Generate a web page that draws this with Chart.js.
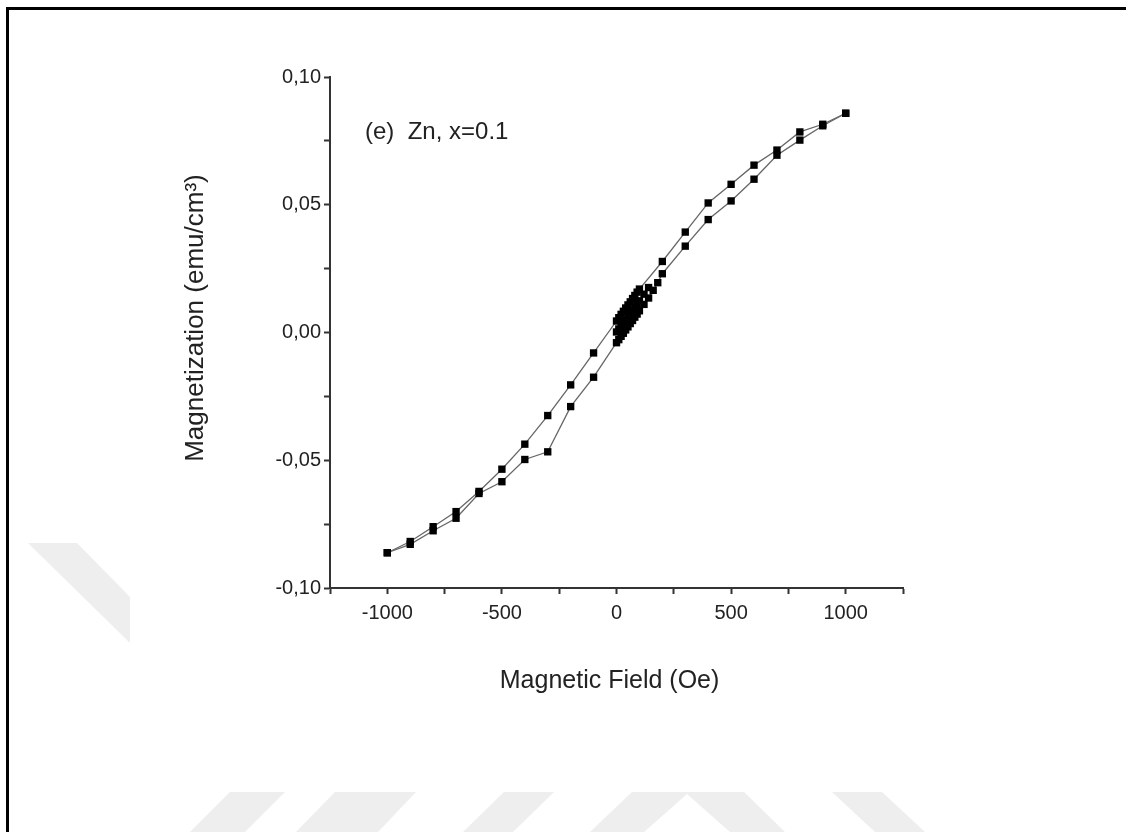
<!DOCTYPE html>
<html>
<head>
<meta charset="utf-8">
<script src="https://cdn.jsdelivr.net/npm/chart.js@4.4.1/dist/chart.umd.min.js"></script>
<style>
  html, body { margin: 0; padding: 0; background: #ffffff; }
  #wrap { position: relative; width: 1126px; height: 832px; }
  canvas { display: block; }
</style>
</head>
<body>
<div id="wrap"><canvas id="c" width="1126" height="832"></canvas></div>
<script>
// ---- Data ----
// Initial sweep from zero field (dense cluster near the origin)
const initialField = [0, 10, 20, 30, 40, 50, 60, 70, 80, 90, 100, 120, 140];
const initialMag   = [0.0002, 0.0014, 0.0026, 0.0038, 0.0050, 0.0062, 0.0074, 0.0086, 0.0098, 0.0110, 0.0124, 0.0150, 0.0176];

// Descending branch (field swept from +1000 Oe to -1000 Oe) – upper curve
const upperField = [1000, 900, 800, 700, 600, 500, 400, 300, 200, 100,
                    90, 80, 70, 60, 50, 40, 30, 20, 10, 0,
                    -100, -200, -300, -400, -500, -600, -700, -800, -900, -1000];
const upperMag   = [0.0858, 0.0815, 0.0785, 0.0714, 0.0655, 0.0580, 0.0507, 0.0393, 0.0278, 0.0170,
                    0.0158, 0.0145, 0.0133, 0.0120, 0.0108, 0.0096, 0.0083, 0.0071, 0.0058, 0.0045,
                    -0.0080, -0.0205, -0.0325, -0.0437, -0.0535, -0.0622, -0.0701, -0.0760, -0.0818, -0.0862];

// Ascending branch (field swept from -1000 Oe to +1000 Oe) – lower curve
const lowerField = [-1000, -900, -800, -700, -600, -500, -400, -300, -200, -100,
                    0, 10, 20, 30, 40, 50, 60, 70, 80, 90, 100, 120, 140, 160, 180, 200,
                    300, 400, 500, 600, 700, 800, 900, 1000];
const lowerMag   = [-0.0862, -0.0829, -0.0776, -0.0727, -0.0630, -0.0584, -0.0497, -0.0467, -0.0290, -0.0175,
                    -0.0040, -0.0028, -0.0015, -0.0003, 0.0010, 0.0022, 0.0035, 0.0047, 0.0060, 0.0072,
                    0.0085, 0.0110, 0.0135, 0.0165, 0.0195, 0.0230,
                    0.0338, 0.0442, 0.0515, 0.0600, 0.0694, 0.0753, 0.0809, 0.0858];

// Tick values and labels
const xTickValues = [-1250, -1000, -750, -500, -250, 0, 250, 500, 750, 1000, 1250];
const xTickLabels = ['', '-1000', '', '-500', '', '0', '', '500', '', '1000', ''];
const yTickValues = [-0.1, -0.075, -0.05, -0.025, 0, 0.025, 0.05, 0.075, 0.1];
const yTickLabels = ['-0,10', '', '-0,05', '', '0,00', '', '0,05', '', '0,10'];

const xTitle = 'Magnetic Field (Oe)  ';
const yTitle = '    Magnetization (emu/cm\u00B3)';
const annotationText = '(e)  Zn, x=0.1';

// ---- Helpers ----
const toPoints = (xs, ys) => xs.map((x, i) => ({ x: x, y: ys[i] }));

const FONT = "'Liberation Sans', Arial, Helvetica, sans-serif";
const TEXT = '#222222';
const AXIS = '#333333';

// Background decoration (page frame and faint watermark stripes)
const pagePlugin = {
  id: 'page',
  beforeDraw(chart) {
    const ctx = chart.ctx;
    ctx.save();
    ctx.fillStyle = '#ffffff';
    ctx.fillRect(0, 0, chart.width, chart.height);
    ctx.fillStyle = '#eeeeee';
    const shapes = [
      [[28, 543], [77, 543], [130, 597], [130, 643]],
      [[230, 792], [285, 792], [245, 832], [190, 832]],
      [[335, 792], [416, 792], [378, 832], [296, 832]],
      [[504, 792], [554, 792], [513, 832], [463, 832]],
      [[632, 792], [744, 792], [785, 832], [730, 832], [687, 794], [644, 832], [590, 832]],
      [[832, 792], [882, 792], [925, 832], [875, 832]]
    ];
    shapes.forEach(s => {
      ctx.beginPath();
      ctx.moveTo(s[0][0], s[0][1]);
      for (let i = 1; i < s.length; i++) ctx.lineTo(s[i][0], s[i][1]);
      ctx.closePath();
      ctx.fill();
    });
    // frame (top and left)
    ctx.fillStyle = '#000000';
    ctx.fillRect(6, 7, 1120, 3);
    ctx.fillRect(6, 7, 3, 825);
    ctx.restore();
  }
};

const annotationPlugin = {
  id: 'annot',
  afterDatasetsDraw(chart) {
    const ctx = chart.ctx;
    const a = chart.chartArea;
    ctx.save();
    ctx.fillStyle = TEXT;
    ctx.font = '24px ' + FONT;
    ctx.textAlign = 'left';
    ctx.textBaseline = 'alphabetic';
    ctx.fillText(annotationText, a.left + 35, a.top + 62);
    ctx.restore();
  }
};

const PAD_LEFT = 180, PAD_TOP = 77, PAD_RIGHT = 223, PAD_BOTTOM = 136;
const AREA_LEFT = 330, AREA_BOTTOM = 588;

const lineStyle = {
  showLine: true,
  borderColor: '#666666',
  borderWidth: 1.3,
  pointStyle: 'rect',
  pointRadius: 5.2,
  pointBackgroundColor: '#000000',
  pointBorderColor: '#000000',
  pointBorderWidth: 0,
  tension: 0,
  fill: false
};

new Chart(document.getElementById('c'), {
  type: 'scatter',
  data: {
    datasets: [
      Object.assign({ label: 'initial', data: toPoints(initialField, initialMag) }, lineStyle),
      Object.assign({ label: 'descending', data: toPoints(upperField, upperMag) }, lineStyle),
      Object.assign({ label: 'ascending', data: toPoints(lowerField, lowerMag) }, lineStyle)
    ]
  },
  options: {
    responsive: false,
    animation: false,
    devicePixelRatio: 1,
    layout: { padding: { left: PAD_LEFT, top: PAD_TOP, right: PAD_RIGHT, bottom: PAD_BOTTOM } },
    plugins: { legend: { display: false }, tooltip: { enabled: false } },
    scales: {
      x: {
        type: 'linear',
        position: 'bottom',
        min: -1250,
        max: 1250,
        afterBuildTicks: s => { s.ticks = xTickValues.map(v => ({ value: v })); },
        afterFit: s => { s.height = (832 - PAD_BOTTOM) - AREA_BOTTOM; },
        ticks: {
          autoSkip: false,
          maxRotation: 0,
          padding: 7,
          color: TEXT,
          font: { family: FONT, size: 20 },
          callback: (v) => { const i = xTickValues.indexOf(v); return i >= 0 ? xTickLabels[i] : ''; }
        },
        grid: {
          drawOnChartArea: false,
          drawTicks: true,
          tickLength: 6,
          tickColor: AXIS,
          tickWidth: 2
        },
        border: { display: true, color: AXIS, width: 2 },
        title: {
          display: true,
          text: xTitle,
          color: TEXT,
          font: { family: FONT, size: 25 },
          padding: { top: 0, bottom: 0 }
        }
      },
      y: {
        type: 'linear',
        position: 'left',
        min: -0.1,
        max: 0.1,
        afterBuildTicks: s => { s.ticks = yTickValues.map(v => ({ value: v })); },
        afterFit: s => { s.width = AREA_LEFT - PAD_LEFT; },
        ticks: {
          autoSkip: false,
          padding: 3,
          color: TEXT,
          font: { family: FONT, size: 20 },
          callback: (v) => {
            const i = yTickValues.findIndex(t => Math.abs(t - v) < 1e-9);
            return i >= 0 ? yTickLabels[i] : '';
          }
        },
        grid: {
          drawOnChartArea: false,
          drawTicks: true,
          tickLength: 6,
          tickColor: AXIS,
          tickWidth: 2
        },
        border: { display: true, color: AXIS, width: 2 },
        title: {
          display: true,
          text: yTitle,
          color: TEXT,
          font: { family: FONT, size: 26 },
          padding: { top: 0, bottom: 0 }
        }
      }
    }
  },
  plugins: [pagePlugin, annotationPlugin]
});
</script>
</body>
</html>
